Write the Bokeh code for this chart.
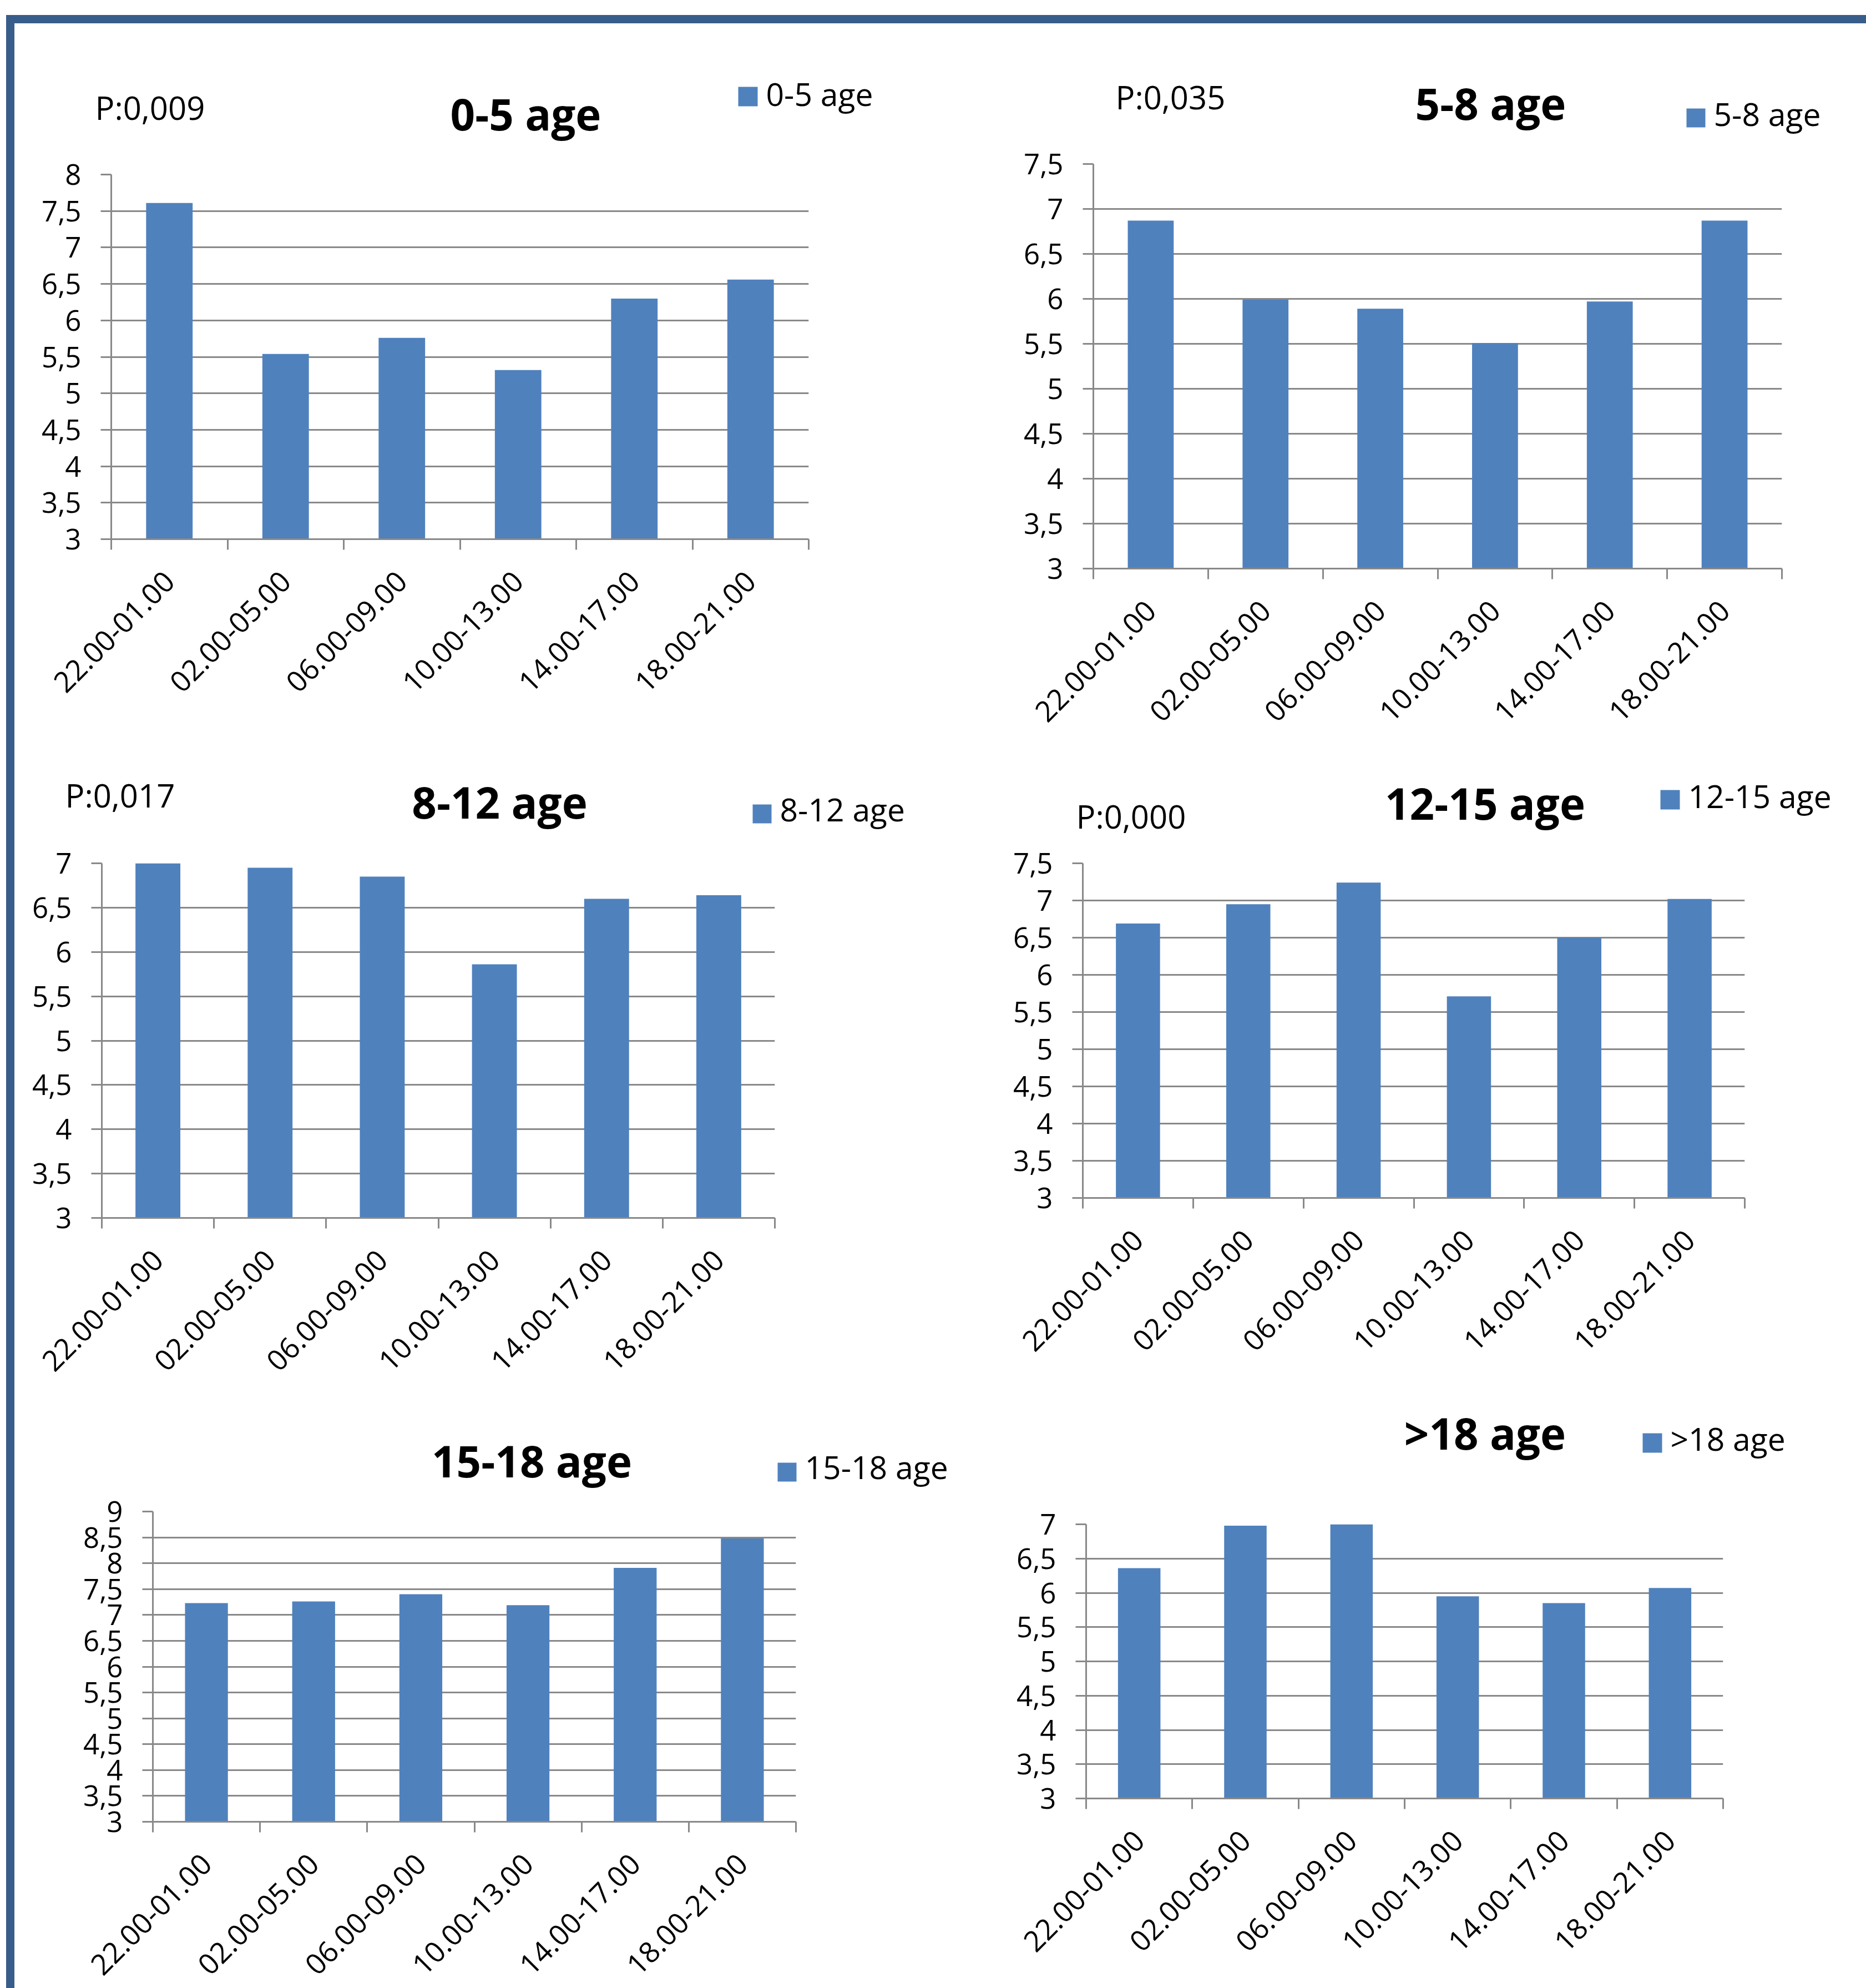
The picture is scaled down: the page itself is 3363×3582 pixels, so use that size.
import math
from bokeh.plotting import figure
from bokeh.models import (Range1d, FixedTicker, CustomJSTickFormatter, Label,
                          Spacer, Div)
from bokeh.layouts import row, column
from bokeh.embed import file_html
from bokeh.resources import INLINE

# ---------------- data ----------------
categories = ["22.00-01.00", "02.00-05.00", "06.00-09.00",
              "10.00-13.00", "14.00-17.00", "18.00-21.00"]

age_0_5 = [7.61, 5.54, 5.76, 5.32, 6.30, 6.56]
age_5_8 = [6.87, 5.99, 5.89, 5.51, 5.97, 6.87]
age_8_12 = [7.01, 6.95, 6.85, 5.86, 6.60, 6.64]
age_12_15 = [6.69, 6.95, 7.24, 5.71, 6.50, 7.02]
age_15_18 = [7.23, 7.26, 7.40, 7.19, 7.91, 8.48]
age_18_plus = [6.36, 6.98, 7.02, 5.95, 5.85, 6.07]

series = [age_0_5, age_5_8, age_8_12, age_12_15, age_15_18, age_18_plus]
titles = ["0-5 age", "5-8 age", "8-12 age", "12-15 age", "15-18 age", ">18 age"]
p_values = ["P:0,009", "P:0,035", "P:0,017", "P:0,000", None, None]
y_max = [8, 7.5, 7, 7.5, 9, 7]
y_min = 3

# ---------------- styling / layout (page pixels) ----------------
BAR = "#4f81bd"
GRID = "#898989"
BORDER = "#385d8a"
FONT = "Open Sans"
TITLE_PX, P_PX, LEG_PX = 78, 58, 57
TICK_PX, XLAB_PX = 51, 52

# fig box (x, y, w, h); frame (L, T, R, B); title (cx, baseline); P (x, baseline);
# legend square (x, y, size); legend text baseline; space above chart frame
panels = [
    dict(fig=(26, 42, 1674, 1298), frame=(200, 314, 1457, 971),
         title=(947, 233), p=(171, 214), sq=(1330, 156, 35), leg=190, gap=40),
    dict(fig=(1700, 42, 1663, 1298), frame=(1970, 295, 3211, 1024),
         title=(2686, 214), p=(2010, 195), sq=(3039, 195, 34), leg=226, gap=40),
    dict(fig=(26, 1340, 1674, 1160), frame=(183, 1555, 1396, 2194),
         title=(900, 1473), p=(117, 1453), sq=(1356, 1449, 34), leg=1479, gap=40),
    dict(fig=(1700, 1340, 1663, 1160), frame=(1951, 1555, 3144, 2158),
         title=(2676, 1475), p=(1939, 1491), sq=(2992, 1423, 35), leg=1455, gap=40),
    dict(fig=(26, 2500, 1714, 1082), frame=(275, 2723, 1434, 3282),
         title=(958, 2660), p=None, sq=(1401, 2635, 34), leg=2664, gap=36),
    dict(fig=(1740, 2500, 1623, 1082), frame=(1957, 2746, 3105, 3240),
         title=(2676, 2610), p=None, sq=(2960, 2582, 35), leg=2613, gap=40),
]


def no_align(p):
    if "frame_align" in p.properties():
        p.frame_align = False


def mid(baseline, px):
    # vertical centre of the text box for a given alphabetic baseline
    return baseline - 0.37 * px


def make_strip(i):
    spec = panels[i]
    fx, fy, fw, fh = spec["fig"]
    L, T, R, B = spec["frame"]
    sh = (T - spec["gap"]) - fy
    s = figure(width=fw, height=sh, x_range=Range1d(0, fw), y_range=Range1d(sh, 0),
               x_axis_location=None, y_axis_location=None,
               min_border_left=0, min_border_right=0, min_border_top=0, min_border_bottom=0,
               output_backend="svg", toolbar_location=None, outline_line_color=None,
               background_fill_color="white", border_fill_color="white")
    s.title.visible = False
    s.grid.visible = False
    no_align(s)

    tx, tb = spec["title"]
    s.add_layout(Label(x=tx - fx, y=mid(tb, TITLE_PX) - fy, text=titles[i],
                       text_font=FONT, text_font_style="bold",
                       text_font_size=f"{TITLE_PX}px", text_align="center",
                       text_baseline="middle", text_color="black"))
    if spec["p"] is not None:
        px, pb = spec["p"]
        s.add_layout(Label(x=px - fx, y=mid(pb, P_PX) - fy, text=p_values[i],
                           text_font=FONT, text_font_size=f"{P_PX}px",
                           text_align="left", text_baseline="middle",
                           text_color="black"))
    # legend key + text
    sx, sy, ss = spec["sq"]
    s.scatter(x=[sx + ss / 2 - fx], y=[sy + ss / 2 - fy], marker="square", size=ss,
              fill_color=BAR, line_color=None)
    s.add_layout(Label(x=sx + ss + 15 - fx, y=mid(spec["leg"], LEG_PX) - fy,
                       text=titles[i], text_font=FONT, text_font_size=f"{LEG_PX}px",
                       text_align="left", text_baseline="middle", text_color="black"))
    return s


def make_chart(i):
    spec = panels[i]
    fx, fy, fw, fh = spec["fig"]
    L, T, R, B = spec["frame"]
    gap = spec["gap"]
    cy0 = T - gap
    ch = fy + fh - cy0
    p = figure(width=fw, height=ch,
               x_range=Range1d(0, len(categories)), y_range=Range1d(y_min, y_max[i]),
               output_backend="svg", toolbar_location=None,
               min_border_left=L - fx, min_border_right=fx + fw - R,
               min_border_top=gap, min_border_bottom=fy + fh - B,
               outline_line_color=None, background_fill_color="white",
               border_fill_color="white")
    p.title.visible = False
    no_align(p)

    xs = [k + 0.5 for k in range(len(categories))]
    p.vbar(x=xs, top=series[i], bottom=y_min, width=0.4,
           fill_color=BAR, line_color=None)

    # y axis
    nt = int(round((y_max[i] - y_min) / 0.5))
    yticks = [y_min + 0.5 * k for k in range(nt + 1)]
    yax = p.yaxis[0]
    yax.ticker = FixedTicker(ticks=yticks)
    yax.formatter = CustomJSTickFormatter(code="return tick.toString().replace('.', ',');")
    yax.axis_line_color = GRID
    yax.axis_line_width = 3
    yax.major_tick_line_color = GRID
    yax.major_tick_line_width = 3
    yax.major_tick_out = 19
    yax.major_tick_in = 0
    yax.minor_tick_line_color = None
    yax.major_label_standoff = 35
    yax.major_label_text_font = FONT
    yax.major_label_text_font_size = f"{TICK_PX}px"
    yax.major_label_text_color = "black"

    # x axis: ticks at category boundaries, labels at centres
    xax = p.xaxis[0]
    xax.ticker = FixedTicker(ticks=xs, minor_ticks=list(range(len(categories) + 1)))
    xax.formatter = CustomJSTickFormatter(args=dict(labels=categories),
                                          code="return labels[Math.floor(tick)];")
    xax.axis_line_color = GRID
    xax.axis_line_width = 3
    xax.major_tick_line_color = None
    xax.major_tick_out = 0
    xax.major_tick_in = 0
    xax.minor_tick_line_color = GRID
    xax.minor_tick_line_width = 3
    xax.minor_tick_out = 19
    xax.minor_tick_in = 0
    xax.major_label_orientation = math.pi / 4
    xax.major_label_standoff = 48
    xax.major_label_text_font = FONT
    xax.major_label_text_font_size = f"{XLAB_PX}px"
    xax.major_label_text_color = "black"

    p.xgrid.visible = False
    p.ygrid.grid_line_color = GRID
    p.ygrid.grid_line_width = 3
    return p


def make_panel(i):
    return column(make_strip(i), make_chart(i))


grid = column(row(make_panel(0), make_panel(1)),
              row(make_panel(2), make_panel(3)),
              row(make_panel(4), make_panel(5)))

top_border = Div(text="", width=3352, height=15, margin=0,
                 styles={"background-color": BORDER})
left_border = Div(text="", width=15, height=3540, margin=0,
                  styles={"background-color": BORDER})

root = column(
    Spacer(width=3363, height=27),
    row(Spacer(width=11, height=15), top_border),
    row(Spacer(width=11, height=3540), left_border, grid),
)

open("out.html", "w").write(file_html(root, INLINE, title="Sleep by age"))
